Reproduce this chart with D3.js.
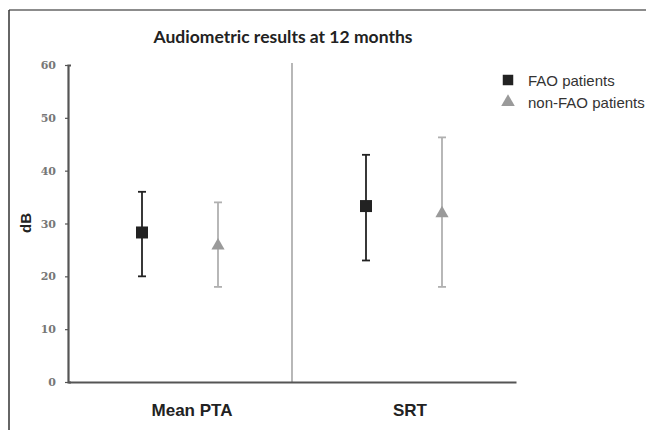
<!DOCTYPE html>
<html>
<head>
<meta charset="utf-8">
<script src="https://cdn.jsdelivr.net/npm/d3@7"></script>
<style>
  body { margin: 0; background: #fff; }
  svg { display: block; }
</style>
</head>
<body>
<svg width="646" height="430"></svg>
<script>
// data
const categories = ['Mean PTA', 'SRT'];
const seriesNames = ['FAO patients', 'non-FAO patients'];
const faoMean = [28.3, 33.3];
const faoLow = [20, 23];
const faoHigh = [36, 43];
const nonFaoMean = [25.8, 31.9];
const nonFaoLow = [18, 18];
const nonFaoHigh = [34, 46.3];
const yTicks = [0, 10, 20, 30, 40, 50, 60];

const svg = d3.select('svg');

// frame round the figure
svg.append('line').attr('x1', 9).attr('x2', 646).attr('y1', 10).attr('y2', 10)
  .attr('stroke', '#666').attr('stroke-width', 1.5);
svg.append('line').attr('x1', 9).attr('x2', 9).attr('y1', 10).attr('y2', 430)
  .attr('stroke', '#333').attr('stroke-width', 1.5);

const x = d3.scaleBand().domain(categories).range([68, 516]).padding(0);
const y = d3.scaleLinear().domain([0, 60]).range([382, 65]);
const offset = 38;

// divider between the two groups
svg.append('line')
  .attr('x1', x('SRT')).attr('x2', x('SRT'))
  .attr('y1', y(60) - 2).attr('y2', y(0))
  .attr('stroke', '#888').attr('stroke-width', 1.2);

// y axis
const yAxis = svg.append('g')
  .attr('transform', 'translate(68,0)')
  .call(d3.axisLeft(y).tickValues(yTicks).tickSize(3).tickSizeOuter(-3).tickPadding(9));
yAxis.select('.domain').attr('stroke', '#555').attr('stroke-width', 2.2);
yAxis.selectAll('.tick line').attr('stroke', '#555').attr('stroke-width', 1.2);
yAxis.selectAll('.tick text')
  .attr('font-family', 'DejaVu Serif, serif')
  .attr('font-weight', 'bold')
  .attr('font-size', 11)
  .attr('fill', '#777');

// x axis
const xAxis = svg.append('g')
  .attr('transform', 'translate(0,382)')
  .call(d3.axisBottom(x).tickSize(0).tickSizeOuter(0).tickPadding(22));
xAxis.select('.domain').attr('stroke', '#555').attr('stroke-width', 2.2);
xAxis.selectAll('.tick text')
  .attr('dx', (d, i) => i === 0 ? 12 : 6)
  .attr('font-family', 'Liberation Sans, Arial, sans-serif')
  .attr('font-weight', 'bold')
  .attr('font-size', 17)
  .attr('fill', '#222');

// title
svg.append('text')
  .attr('x', 283).attr('y', 43)
  .attr('text-anchor', 'middle')
  .attr('font-family', 'Lato, sans-serif')
  .attr('font-weight', 'bold')
  .attr('font-size', 17.5)
  .attr('fill', '#222')
  .text('Audiometric results at 12 months');

// y label
svg.append('text')
  .attr('transform', 'translate(31,223) rotate(-90)')
  .attr('text-anchor', 'middle')
  .attr('font-family', 'Liberation Sans, Arial, sans-serif')
  .attr('font-weight', 'bold')
  .attr('font-size', 15)
  .attr('fill', '#222')
  .text('dB');

const series = [
  { name: seriesNames[0], mean: faoMean, low: faoLow, high: faoHigh, dx: -offset, color: '#222', barColor: '#222', shape: d3.symbolSquare, size: 144 },
  { name: seriesNames[1], mean: nonFaoMean, low: nonFaoLow, high: nonFaoHigh, dx: offset, color: '#9a9a9a', barColor: '#b0b0b0', shape: d3.symbolTriangle, size: 75 }
];

series.forEach(s => {
  const g = svg.append('g');
  const pts = categories.map((c, i) => ({ cx: x(c) + x.bandwidth() / 2 + s.dx, m: s.mean[i], lo: s.low[i], hi: s.high[i] }));
  g.selectAll('line.whisk').data(pts).enter().append('line')
    .attr('x1', d => d.cx).attr('x2', d => d.cx)
    .attr('y1', d => y(d.hi)).attr('y2', d => y(d.lo))
    .attr('stroke', s.barColor).attr('stroke-width', 1.8);
  ['hi', 'lo'].forEach(k => {
    g.selectAll('line.cap' + k).data(pts).enter().append('line')
      .attr('x1', d => d.cx - 4).attr('x2', d => d.cx + 4)
      .attr('y1', d => y(d[k])).attr('y2', d => y(d[k]))
      .attr('stroke', s.barColor).attr('stroke-width', 1.8);
  });
  g.selectAll('path.mark').data(pts).enter().append('path')
    .attr('transform', d => `translate(${d.cx},${y(d.m)})`)
    .attr('d', d3.symbol().type(s.shape).size(s.size))
    .attr('fill', s.color);
});

// legend
const legend = svg.append('g').attr('transform', 'translate(508,80)');
const legendRow = legend.selectAll('g').data(series).enter().append('g')
  .attr('transform', (d, i) => `translate(0,${i * 22})`);
legendRow.append('path')
  .attr('d', d => d3.symbol().type(d.shape).size(d.shape === d3.symbolSquare ? 110 : 80)())
  .attr('fill', d => d.color);
legendRow.append('text')
  .attr('x', 20).attr('y', 5.5)
  .attr('font-family', 'Liberation Sans, Arial, sans-serif')
  .attr('font-size', 15)
  .attr('fill', '#333')
  .text(d => d.name);
</script>
</body>
</html>
